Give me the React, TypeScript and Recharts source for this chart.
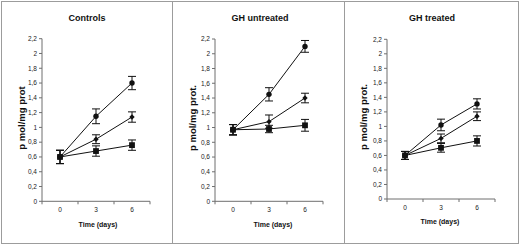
import React from 'react';
import { LineChart, Line, XAxis, YAxis, ErrorBar } from 'recharts';

const days = [0, 3, 6];
const yTicks = [0, 0.2, 0.4, 0.6, 0.8, 1, 1.2, 1.4, 1.6, 1.8, 2, 2.2];
// category boundaries (tick marks) plus the day labels
const xTicks = [-1.5, 0, 1.5, 3, 4.5, 6, 7.5];

const ctrlCircle = [0.6, 1.15, 1.6];
const ctrlCircleErr = [0.09, 0.1, 0.09];
const ctrlDiamond = [0.6, 0.84, 1.14];
const ctrlDiamondErr = [0.09, 0.06, 0.07];
const ctrlSquare = [0.6, 0.68, 0.76];
const ctrlSquareErr = [0.09, 0.07, 0.07];

const untrCircle = [0.97, 1.45, 2.1];
const untrCircleErr = [0.07, 0.09, 0.08];
const untrDiamond = [0.97, 1.08, 1.4];
const untrDiamondErr = [0.07, 0.09, 0.065];
const untrSquare = [0.97, 0.98, 1.03];
const untrSquareErr = [0.07, 0.05, 0.08];

const trCircle = [0.6, 1.02, 1.31];
const trCircleErr = [0.055, 0.08, 0.07];
const trDiamond = [0.6, 0.835, 1.14];
const trDiamondErr = [0.055, 0.06, 0.06];
const trSquare = [0.6, 0.705, 0.8];
const trSquareErr = [0.055, 0.06, 0.07];

const makeRows = (a: number[], ae: number[], b: number[], be: number[], c: number[], ce: number[]) =>
    days.map((d, i) => ({ day: d, a: a[i], ae: ae[i], b: b[i], be: be[i], c: c[i], ce: ce[i] }));

const FONT = 'Arial, "Liberation Sans", sans-serif';
const AXIS = '#6f6f6f';
const INK = '#111';

const fmt = (v: number) => String(Number(v.toFixed(1))).replace('.', ',');

const XTick = (props: any) => {
    const { x, y, payload } = props;
    const v = payload.value;
    if (days.includes(v)) {
        return (
            <text x={x} y={y} dy="0.71em" textAnchor="middle" fontSize={6.5} fontFamily={FONT} fill="#222">
                {v}
            </text>
        );
    }
    // y = axis + tickSize + tickMargin
    return <line x1={x} x2={x} y1={y - 6} y2={y - 3} stroke={AXIS} strokeWidth={1} />;
};

const CircleDot = (p: any) => <circle key={p.index} cx={p.cx} cy={p.cy} r={2.7} fill={INK} />;
const DiamondDot = (p: any) => (
    <polygon
        key={p.index}
        points={`${p.cx},${p.cy - 2.7} ${p.cx + 2.7},${p.cy} ${p.cx},${p.cy + 2.7} ${p.cx - 2.7},${p.cy}`}
        fill={INK}
    />
);
const SquareDot = (p: any) => <rect key={p.index} x={p.cx - 2.9} y={p.cy - 2.9} width={5.8} height={5.8} fill={INK} />;

type PanelProps = {
    left: number;
    title: string;
    yLabel: string;
    rows: any[];
    top: number;
    bottom: number;
    yLabelX: number;
    xLabelX: number;
    xLabelY: number;
};

const Panel: React.FC<PanelProps> = ({ left, title, yLabel, rows, top, bottom, yLabelX, xLabelX, xLabelY }) => (
    <div style={{ position: 'absolute', left, top: 0, width: 171, height: 245 }}>
        <LineChart width={171} height={245} data={rows} margin={{ top, right: 21, bottom: 0, left: 12 }}>
            <XAxis
                type="number"
                dataKey="day"
                domain={[-1.5, 7.5]}
                ticks={xTicks}
                interval={0}
                allowDataOverflow
                height={245 - bottom}
                tickLine={false}
                tickSize={3}
                tickMargin={3}
                tick={<XTick />}
                axisLine={{ stroke: AXIS, strokeWidth: 1 }}
            />
            <YAxis
                domain={[0, 2.2]}
                ticks={yTicks}
                interval={0}
                allowDataOverflow
                width={30}
                tickSize={3}
                tickMargin={2}
                tickFormatter={fmt}
                tick={{ fontSize: 6.5, fontFamily: FONT, fill: '#222' }}
                tickLine={{ stroke: AXIS }}
                axisLine={{ stroke: AXIS, strokeWidth: 1 }}
            />
            <Line type="linear" dataKey="c" stroke={INK} strokeWidth={1} dot={SquareDot} isAnimationActive={false}>
                <ErrorBar dataKey="ce" direction="y" width={4} stroke={INK} strokeWidth={1} />
            </Line>
            <Line type="linear" dataKey="b" stroke={INK} strokeWidth={1} dot={DiamondDot} isAnimationActive={false}>
                <ErrorBar dataKey="be" direction="y" width={4} stroke={INK} strokeWidth={1} />
            </Line>
            <Line type="linear" dataKey="a" stroke={INK} strokeWidth={1} dot={CircleDot} isAnimationActive={false}>
                <ErrorBar dataKey="ae" direction="y" width={4} stroke={INK} strokeWidth={1} />
            </Line>
        </LineChart>
        <div
            style={{
                position: 'absolute', left: 87, top: 18, transform: 'translate(-50%, -50%)',
                fontFamily: FONT, fontWeight: 700, fontSize: 9, color: INK, whiteSpace: 'nowrap',
            }}
        >
            {title}
        </div>
        <div
            style={{
                position: 'absolute', left: yLabelX, top: (top + bottom) / 2 - 2,
                transform: 'translate(-50%, -50%) rotate(-90deg)',
                fontFamily: FONT, fontWeight: 700, fontSize: 9.5, color: INK, whiteSpace: 'nowrap',
            }}
        >
            {yLabel}
        </div>
        <div
            style={{
                position: 'absolute', left: xLabelX, top: xLabelY, transform: 'translate(-50%, -50%)',
                fontFamily: FONT, fontWeight: 700, fontSize: 7, color: INK, whiteSpace: 'nowrap',
            }}
        >
            Time (days)
        </div>
    </div>
);

const LINE = '#9c9c9c';

export default function App() {
    return (
        <div style={{ position: 'absolute', left: 0, top: 0, width: 520, height: 245, background: '#fff', overflow: 'hidden' }}>
            <div style={{ position: 'absolute', left: 1, top: 1, width: 518, height: 243, boxSizing: 'border-box', border: `1px solid ${LINE}` }} />
            <div style={{ position: 'absolute', left: 172, top: 1, width: 1, height: 243, background: LINE }} />
            <div style={{ position: 'absolute', left: 344, top: 1, width: 1, height: 243, background: LINE }} />
            <Panel
                left={0}
                title="Controls"
                yLabel="p mol/mg prot"
                rows={makeRows(ctrlCircle, ctrlCircleErr, ctrlDiamond, ctrlDiamondErr, ctrlSquare, ctrlSquareErr)}
                top={38.7}
                bottom={201.3}
                yLabelX={21}
                xLabelX={98}
                xLabelY={224}
            />
            <Panel
                left={173}
                title="GH untreated"
                yLabel="p mol/mg prot."
                rows={makeRows(untrCircle, untrCircleErr, untrDiamond, untrDiamondErr, untrSquare, untrSquareErr)}
                top={39}
                bottom={201.3}
                yLabelX={19}
                xLabelX={100}
                xLabelY={224}
            />
            <Panel
                left={345}
                title="GH treated"
                yLabel="p mol/mg prot."
                rows={makeRows(trCircle, trCircleErr, trDiamond, trDiamondErr, trSquare, trSquareErr)}
                top={39.3}
                bottom={199}
                yLabelX={18}
                xLabelX={95}
                xLabelY={220.7}
            />
        </div>
    );
}
